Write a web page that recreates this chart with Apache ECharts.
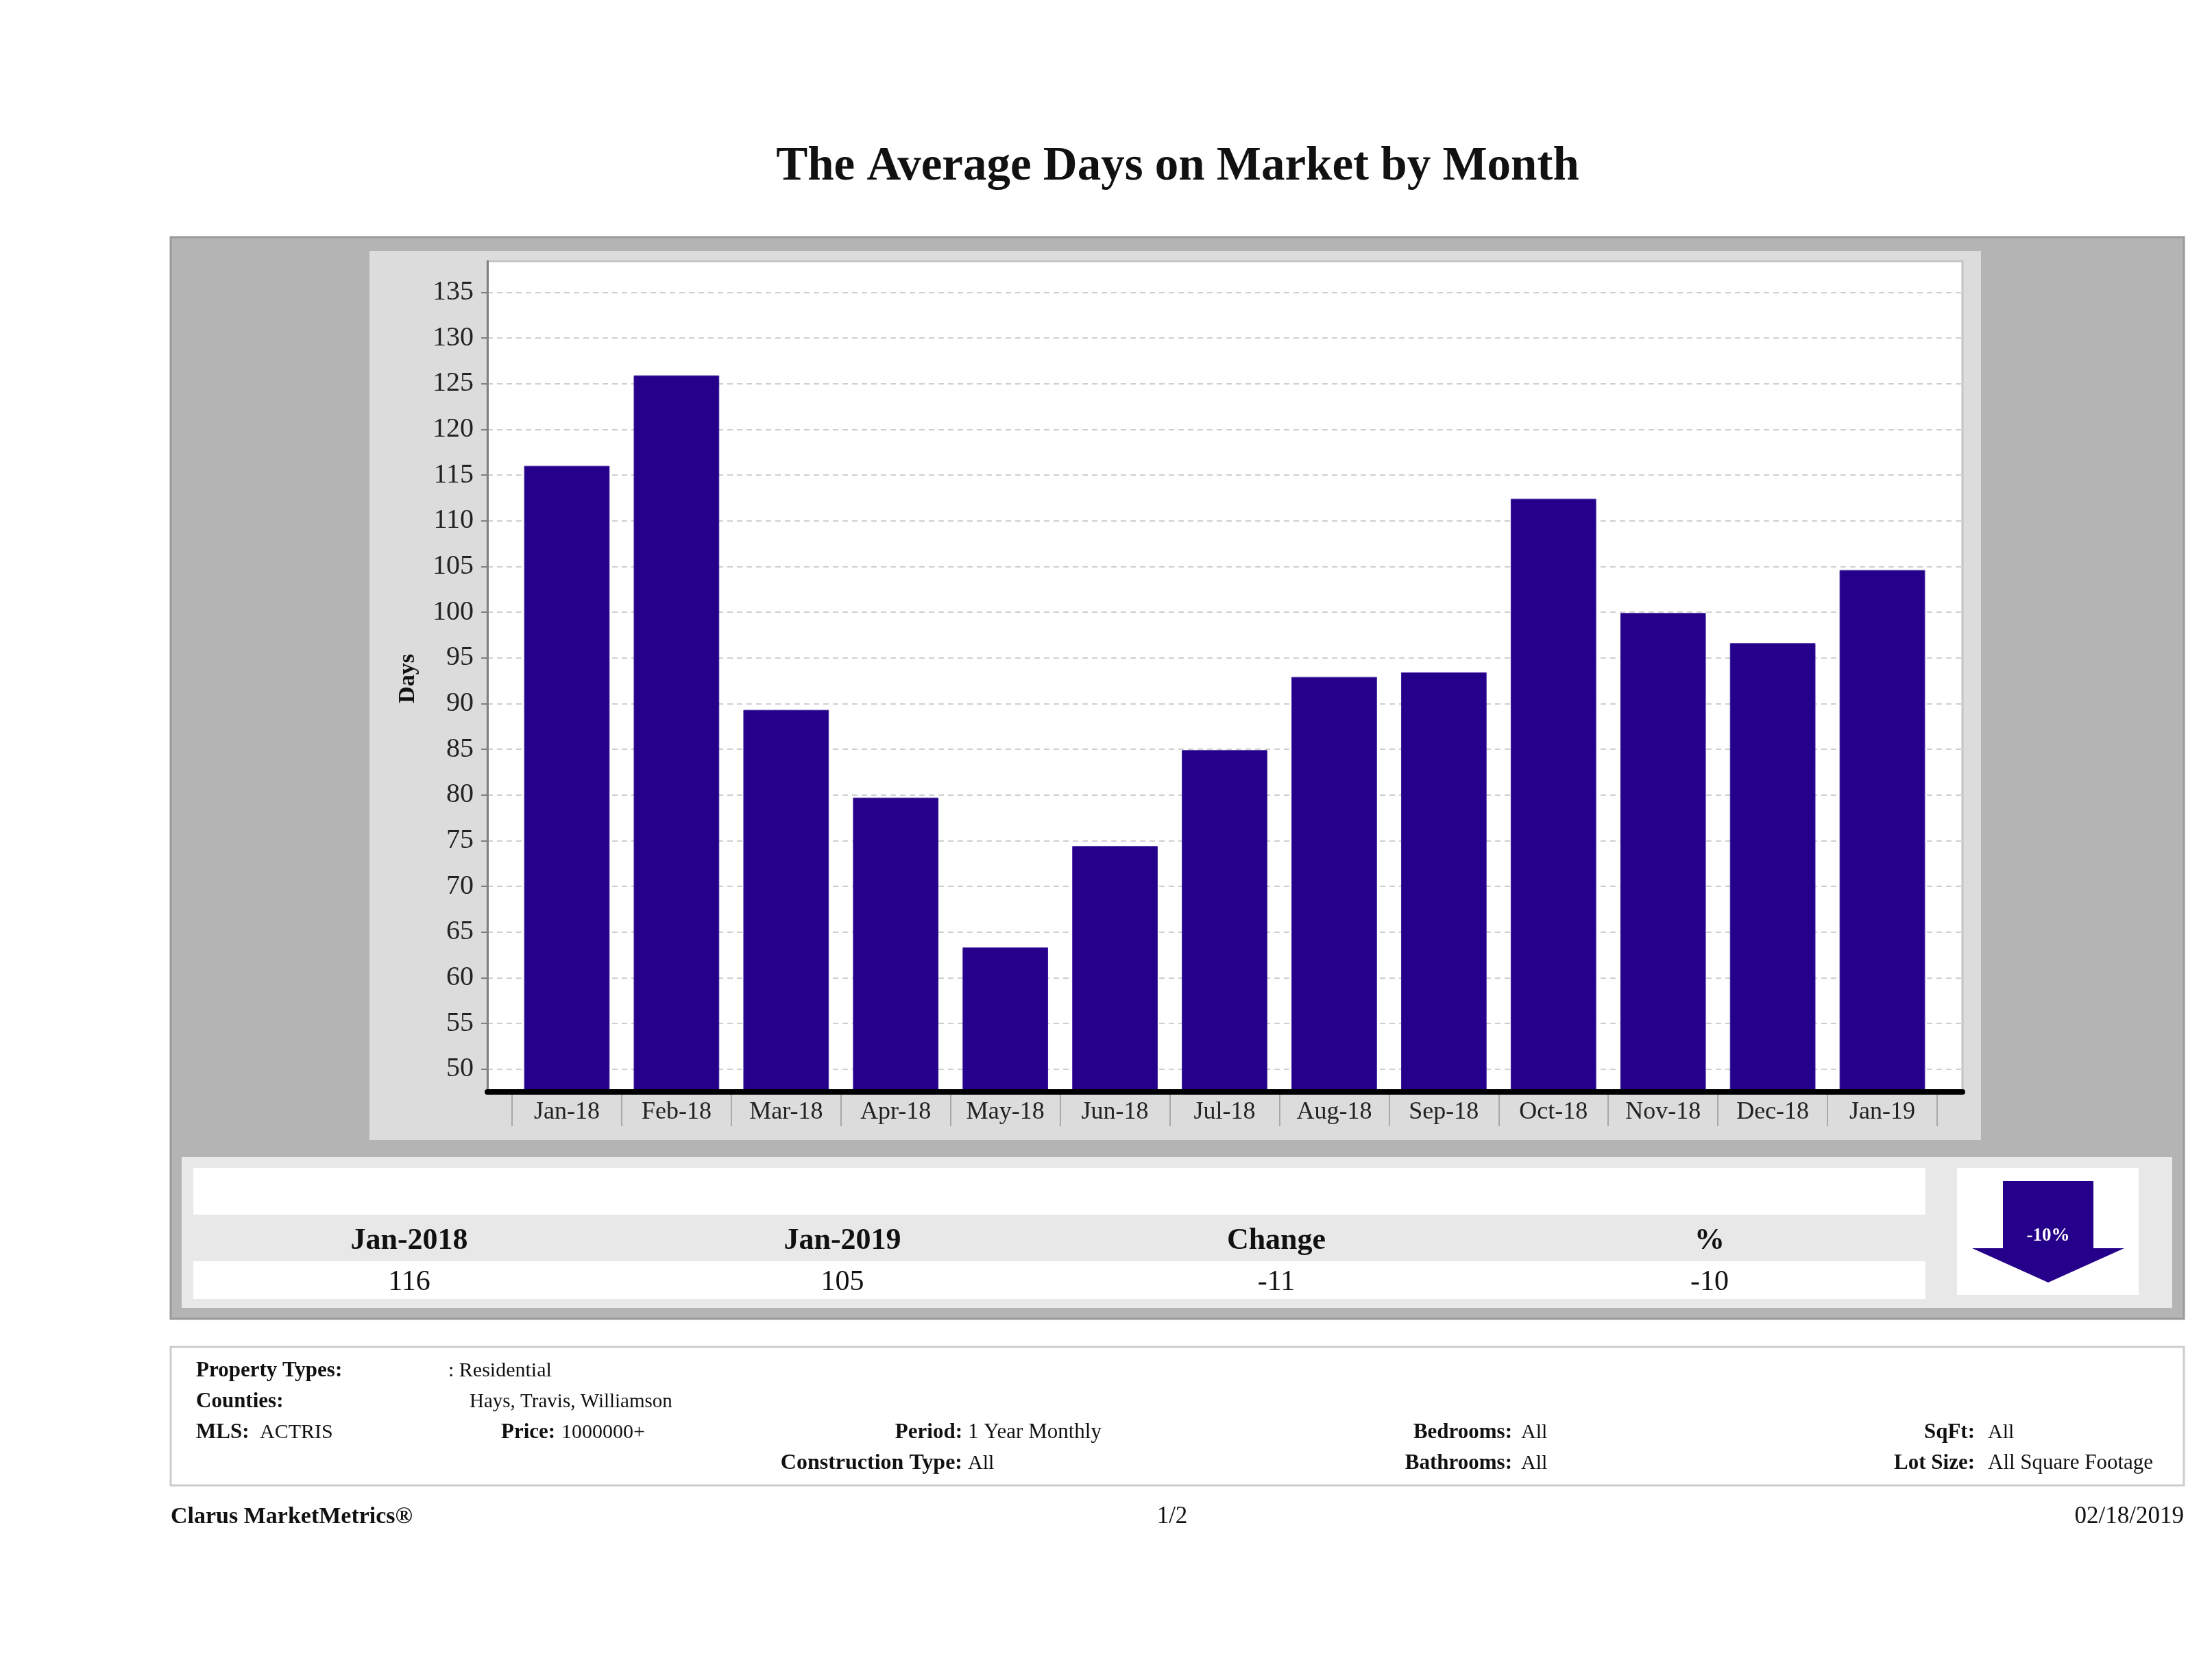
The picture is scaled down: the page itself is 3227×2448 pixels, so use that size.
<!DOCTYPE html>
<html>
<head>
<meta charset="utf-8">
<script src="https://cdn.jsdelivr.net/npm/echarts@6/dist/echarts.min.js"></script>
<style>
html,body{margin:0;padding:0;background:#fff;}
#chart{width:3227px;height:2448px;}
</style>
</head>
<body>
<div id="chart"></div>
<script>
// ---- data ----
var categories = ['Jan-18','Feb-18','Mar-18','Apr-18','May-18','Jun-18','Jul-18','Aug-18','Sep-18','Oct-18','Nov-18','Dec-18','Jan-19'];
var avgDays = [116, 125.9, 89.3, 79.7, 63.3, 74.4, 84.9, 92.9, 93.4, 112.4, 99.9, 96.6, 104.6];
var yTicks = [50,55,60,65,70,75,80,85,90,95,100,105,110,115,120,125,130,135];
var tableHeaders = ['Jan-2018','Jan-2019','Change','%'];
var tableValues = ['116','105','-11','-10'];
var changeLabel = '-10%';
var titleText = 'The Average Days on Market by Month';
var yAxisName = 'Days';

var SERIF = '"Liberation Serif", "DejaVu Serif", serif';
var BAR = '#25008a';
var Y_MIN = 47.5, Y_MAX = 138.4;

var chart = echarts.init(document.getElementById('chart'), null, {renderer:'canvas'});

function txt(x, y, text, opt) {
  opt = opt || {};
  return {
    type: 'text', x: x, y: y, z: 5,
    style: {
      text: text,
      font: (opt.bold ? 'bold ' : '') + (opt.size || (opt.bold ? 31 : 30)) + 'px ' + SERIF,
      fill: opt.color || '#111',
      textAlign: opt.align || 'left',
      textVerticalAlign: 'middle'
    }
  };
}

var headerX = [597, 1229, 1862, 2494];
var graphics = [
  // outer gray panel
  {type:'rect', z:-10, shape:{x:249,y:346,width:2937,height:1578}, style:{fill:'#b4b4b4', stroke:'#9a9a9a', lineWidth:3}},
  // chart panel
  {type:'rect', z:-9, shape:{x:539,y:366,width:2351,height:1297}, style:{fill:'#dcdcdc'}},
  // table panel
  {type:'rect', z:-9, shape:{x:265,y:1688,width:2904,height:220}, style:{fill:'#e8e8e8'}},
  {type:'rect', z:-8, shape:{x:282,y:1704,width:2527,height:68}, style:{fill:'#ffffff'}},
  {type:'rect', z:-8, shape:{x:282,y:1840,width:2527,height:55}, style:{fill:'#ffffff'}},
  {type:'rect', z:-8, shape:{x:2855,y:1704,width:265,height:185}, style:{fill:'#ffffff'}},
  // arrow
  {type:'polygon', z:1, shape:{points:[[2922,1723],[3054,1723],[3054,1821],[3099,1821],[2988,1871],[2877,1821],[2922,1821]]}, style:{fill:BAR}},
  txt(2988, 1803, changeLabel, {bold:true, size:27, color:'#ffffff', align:'center'}),
  // info panel
  {type:'rect', z:-10, shape:{x:249,y:1965,width:2937,height:202}, style:{fill:'#ffffff', stroke:'#cccccc', lineWidth:3}},
  txt(286, 2000, 'Property Types:', {bold:true}),
  txt(654, 2000, ': Residential'),
  txt(286, 2045, 'Counties:', {bold:true}),
  txt(685, 2045, 'Hays, Travis, Williamson', {size:29}),
  txt(286, 2090, 'MLS:', {bold:true}),
  txt(379, 2090, 'ACTRIS'),
  txt(731, 2090, 'Price:', {bold:true}),
  txt(819, 2090, '1000000+'),
  txt(1404, 2090, 'Period:', {bold:true, align:'right'}),
  txt(1412, 2090, '1 Year Monthly', {size:31}),
  txt(2206, 2090, 'Bedrooms:', {bold:true, align:'right'}),
  txt(2219, 2090, 'All'),
  txt(2881, 2090, 'SqFt:', {bold:true, align:'right'}),
  txt(2900, 2090, 'All'),
  txt(1404, 2135, 'Construction Type:', {bold:true, align:'right', size:32}),
  txt(1412, 2135, 'All'),
  txt(2206, 2135, 'Bathrooms:', {bold:true, align:'right'}),
  txt(2219, 2135, 'All'),
  txt(2881, 2135, 'Lot Size:', {bold:true, align:'right'}),
  txt(2900, 2135, 'All Square Footage', {size:31}),
  // footer
  txt(249, 2213, 'Clarus MarketMetrics®', {bold:true, size:34}),
  txt(1710, 2213, '1/2', {size:35, align:'center'}),
  txt(3186, 2213, '02/18/2019', {size:35, align:'right'}),
  // title
  txt(1718, 244, titleText, {bold:true, size:69, align:'center'}),
  // y axis name
  {type:'text', x:595, y:990, rotation:Math.PI/2, z:5,
   style:{text:yAxisName, font:'bold 34px ' + SERIF, fill:'#111', textAlign:'center', textVerticalAlign:'middle'}}
];
tableHeaders.forEach(function(h, i){ graphics.push(txt(headerX[i], 1811, h, {bold:true, size:44, align:'center'})); });
tableValues.forEach(function(v, i){ graphics.push(txt(headerX[i], 1871, v, {size:42, align:'center'})); });

var option = {
  animation: false,
  backgroundColor: '#ffffff',
  grid: [
    {left:711, top:381, width:2152, height:1212, show:true, backgroundColor:'#ffffff', borderColor:'#c4c4c4', borderWidth:3, containLabel:false},
    {left:747, top:381, width:2079, height:1212, containLabel:false}
  ],
  xAxis: [
    {gridIndex:0, type:'value', min:0, max:1, z:10,
     axisLine:{show:true, onZero:false, lineStyle:{color:'#000', width:8}},
     axisTick:{show:false}, axisLabel:{show:false}, splitLine:{show:false}},
    {gridIndex:1, type:'category', data:categories, boundaryGap:true,
     axisLine:{show:false},
     axisTick:{show:true, length:50, lineStyle:{color:'#a8a8a8', width:2}},
     axisLabel:{show:true, margin:12, fontFamily:SERIF, fontSize:36, color:'#222'},
     splitLine:{show:false}}
  ],
  yAxis: [
    {gridIndex:0, type:'value', min:Y_MIN, max:Y_MAX,
     axisLine:{show:true, lineStyle:{color:'#808080', width:3}},
     axisTick:{show:true, length:9, customValues:yTicks, lineStyle:{color:'#808080', width:2}},
     axisLabel:{show:true, customValues:yTicks, margin:20, fontFamily:SERIF, fontSize:40, color:'#222'},
     splitLine:{show:true, lineStyle:{color:'#cfcfcf', width:2, type:[8,6]}}},
    {gridIndex:1, type:'value', min:Y_MIN, max:Y_MAX, show:false, splitLine:{show:false}}
  ],
  series: [
    {type:'bar', xAxisIndex:1, yAxisIndex:1, data:avgDays, barCategoryGap:'22%',
     itemStyle:{color:BAR, borderColor:'#3a1a9a', borderWidth:1}, z:3}
  ],
  graphic: graphics
};
chart.setOption(option);
</script>
</body>
</html>
